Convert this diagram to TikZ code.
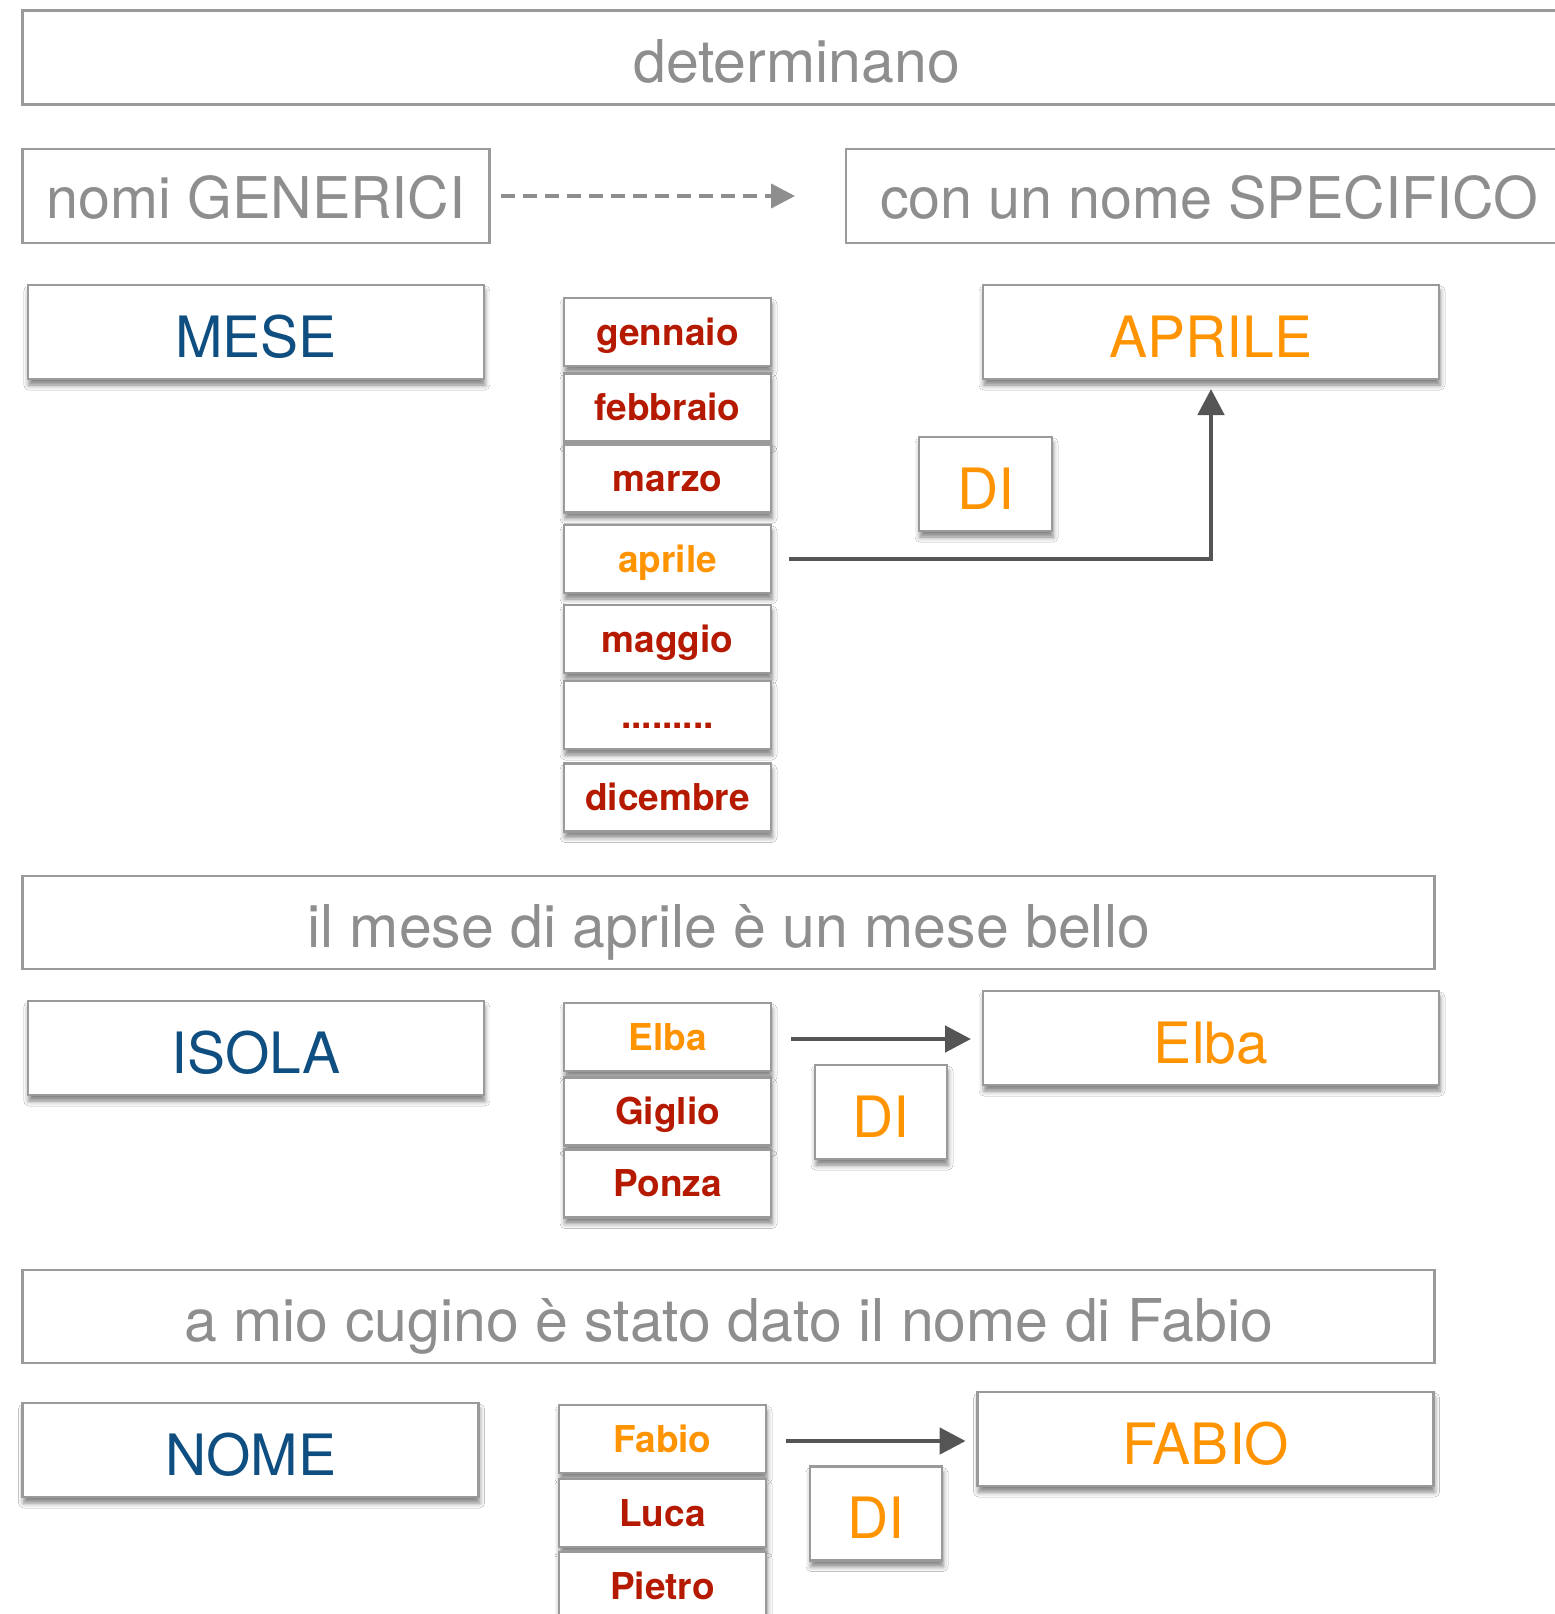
\documentclass[tikz,border=0pt]{standalone}
\usepackage{fontspec}
\setmainfont{TeX Gyre Heros}
\usetikzlibrary{arrows.meta,shadows,shadows.blur,calc}
\definecolor{bordergray}{HTML}{9A9A9A}
\definecolor{txtgray}{HTML}{8E8E8E}
\definecolor{navy}{HTML}{0E4E80}
\definecolor{orng}{HTML}{FF9300}
\definecolor{dred}{HTML}{B51A00}
\definecolor{linegray}{HTML}{555555}
\tikzset{
  plainbox/.style={draw=bordergray, line width=2.5pt, fill=white, inner sep=0pt, outer sep=0pt, anchor=north west},
  shbox/.style={plainbox, blur shadow={shadow xshift=1pt, shadow yshift=-6pt, shadow blur radius=5pt, shadow opacity=50}},
  bigtxt/.style={font=\fontsize{59}{64}\selectfont, text=txtgray, text height=50pt, text depth=0pt},
  captxt/.style={font=\fontsize{57.5}{62}\selectfont, text=txtgray, text height=45pt, text depth=0pt},
  keytxt/.style={font=\fontsize{57}{62}\selectfont, text height=50pt, text depth=0pt},
  smallbox/.style={shbox, minimum width=207pt, minimum height=68pt, font=\fontsize{37}{42}\selectfont\bfseries, text=dred, text height=26pt, text depth=0pt},
  sel/.style={text=orng},
  bigbox/.style={shbox, minimum width=456pt, minimum height=94pt, keytxt},
  dibox/.style={shbox, minimum width=132pt, minimum height=94pt, keytxt, text=orng},
  conn/.style={draw=linegray, line width=4.8pt, -{Triangle[length=26pt,width=26pt]}},
}
\begin{document}
\begin{tikzpicture}[x=1pt,y=-1pt]
\useasboundingbox (0,0) rectangle (1555,1614);
\clip (0,0) rectangle (1555,1614);
\fill[white] (0,0) rectangle (1555,1614);
% header boxes
\node[plainbox, minimum width=1548pt, minimum height=94pt, bigtxt] (det) at (22.6,10.3) {determinano};
\node[plainbox, minimum width=467pt, minimum height=94pt, captxt] (gen) at (22.6,149) {nomi GENERICI};
\node[plainbox, minimum width=726pt, minimum height=94pt, captxt] (spec) at (846,149) {con un nome SPECIFICO};
\draw[draw=txtgray, line width=4pt, dash pattern=on 14pt off 8pt, -{Triangle[length=24pt,width=24pt]}]
  ([xshift=11pt]gen.east) -- ([xshift=-51pt]spec.west);
% MESE section
\node[bigbox, text=navy] (mese) at (27.8,285) {MESE};
\node[bigbox, text=orng] (aprileBig) at (983,285) {APRILE};
\node[smallbox] (gen1) at (564,298) {gennaio};
\node[smallbox] (feb) at (564,373.5) {febbraio};
\node[smallbox] (mar) at (564,444.5) {marzo};
\node[smallbox, sel] (apr) at (564,525) {aprile};
\node[smallbox] (mag) at (564,605) {maggio};
\node[smallbox] (dots) at (564,681) {.........};
\node[smallbox] (dic) at (564,763.5) {dicembre};
\node[dibox, minimum width=133pt] (di1) at (919,437) {DI};
\draw[conn] ([xshift=18pt]apr.east) -| ([yshift=-10pt]aprileBig.south);
% sentence 1
\node[plainbox, minimum width=1412pt, minimum height=93pt, bigtxt] (fr1) at (22.6,876) {il mese di aprile è un mese bello};
% ISOLA section
\node[bigbox, text=navy] (isola) at (27.8,1001) {ISOLA};
\node[smallbox, sel] (elba) at (564,1003) {Elba};
\node[smallbox] (giglio) at (564,1077.5) {Giglio};
\node[smallbox] (ponza) at (564,1149.5) {Ponza};
\node[bigbox, text=orng] (elbaBig) at (983,991) {Elba};
\node[dibox] (di2) at (815,1065) {DI};
\coordinate (e1) at ([xshift=20pt,yshift=-2pt]elba.east);
\draw[conn] (e1) -- ([xshift=-12pt]e1 -| elbaBig.west);
% sentence 2
\node[plainbox, minimum width=1412pt, minimum height=93pt, bigtxt] (fr2) at (22.6,1270) {a mio cugino è stato dato il nome di Fabio};
% NOME section
\node[bigbox, text=navy] (nome) at (22.6,1403) {NOME};
\node[smallbox, sel] (fabio) at (559,1405) {Fabio};
\node[smallbox] (luca) at (559,1479) {Luca};
\node[smallbox] (pietro) at (559,1552) {Pietro};
\node[bigbox, text=orng] (fabioBig) at (977.6,1392) {FABIO};
\node[dibox] (di3) at (810,1466.5) {DI};
\coordinate (f1) at ([xshift=20pt,yshift=-2pt]fabio.east);
\draw[conn] (f1) -- ([xshift=-12pt]f1 -| fabioBig.west);
\end{tikzpicture}
\end{document}
